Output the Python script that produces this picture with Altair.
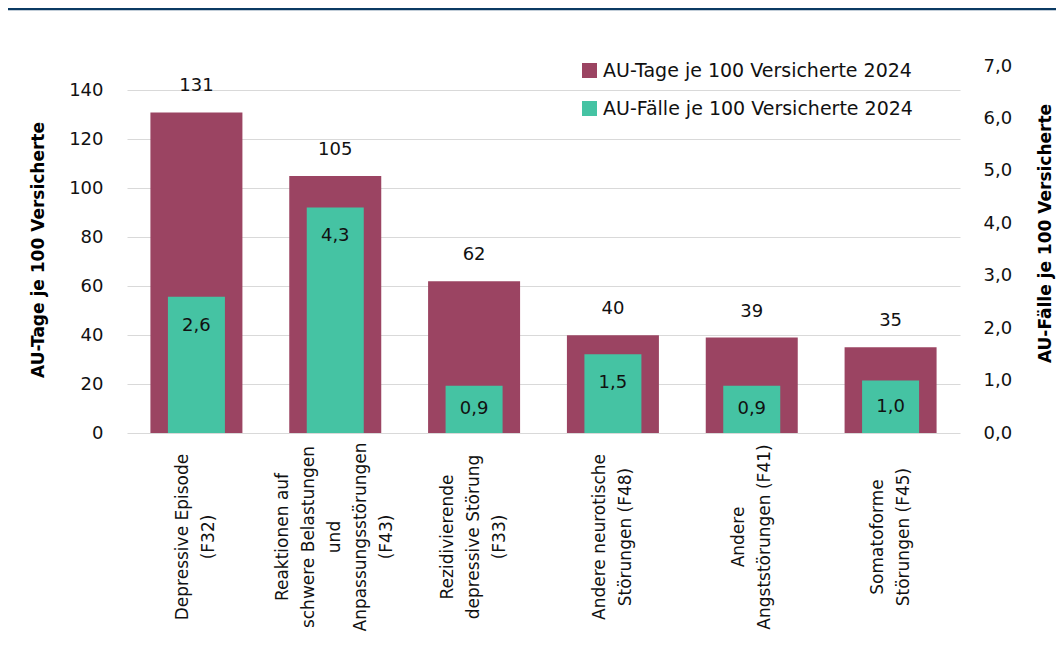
import altair as alt
import pandas as pd

categories = [
    "Depressive Episode\n(F32)",
    "Reaktionen auf\nschwere Belastungen\nund\nAnpassungsstörungen\n(F43)",
    "Rezidivierende\ndepressive Störung\n(F33)",
    "Andere neurotische\nStörungen (F48)",
    "Andere\nAngststörungen (F41)",
    "Somatoforme\nStörungen (F45)",
]
au_tage = [131, 105, 62, 40, 39, 35]
au_faelle = [2.6, 4.3, 0.9, 1.5, 0.9, 1.0]
series_tage = "AU-Tage je 100 Versicherte 2024"
series_faelle = "AU-Fälle je 100 Versicherte 2024"
left_ticks = [0, 20, 40, 60, 80, 100, 120, 140]
right_ticks = [0, 1, 2, 3, 4, 5, 6, 7]

MAROON = "#9B4462"
TEAL = "#45C3A3"
FONT = "DejaVu Sans"
GRID = "#d9d9d9"
W, H = 833, 367
LINE_H = 26

df = pd.DataFrame({
    "cat": categories, "tage": au_tage, "faelle": au_faelle,
    "s_tage": [series_tage] * len(categories),
    "s_faelle": [series_faelle] * len(categories),
})

# one row per label line, with the line's position relative to the label's centre
rows = []
for c in categories:
    parts = c.split("\n")
    n = len(parts)
    for k, p in enumerate(parts):
        rows.append({"cat": c, "line": p, "off": k - (n - 1) / 2})
lines_df = pd.DataFrame(rows)

color_scale = alt.Scale(domain=[series_tage, series_faelle], range=[MAROON, TEAL])
legend = alt.Legend(
    title=None, orient="none", legendX=453, legendY=-5,
    symbolType="square", symbolSize=225, symbolStrokeWidth=0,
    labelFont=FONT, labelFontSize=19, labelColor="#111111",
    labelOffset=4, rowPadding=18, labelLimit=500,
)

x_scale = alt.Scale(paddingInner=0, paddingOuter=0)
x_enc = alt.X(
    "cat:N", sort=categories, title=None, scale=x_scale,
    axis=alt.Axis(
        labels=False, ticks=False, domain=True, domainColor=GRID, domainWidth=1.2,
        grid=False,
    ),
)

base = alt.Chart(df)

y_left = alt.Y(
    "tage:Q", title="AU-Tage je 100 Versicherte",
    scale=alt.Scale(domain=[0, 150], nice=False),
    axis=alt.Axis(
        values=left_ticks, orient="left", ticks=False, domain=False,
        grid=True, gridColor=GRID, gridWidth=1.2,
        labelFont=FONT, labelFontSize=18, labelColor="#111111", labelPadding=24,
        titleFont=FONT, titleFontSize=17, titleFontWeight="bold", titleColor="#000000",
        titlePadding=21,
    ),
)

bars_tage = base.mark_bar(size=92).encode(
    x=x_enc, y=y_left,
    color=alt.Color("s_tage:N", scale=color_scale, legend=legend),
)
text_tage = base.mark_text(
    dy=-26, font=FONT, fontSize=18, color="#111111", baseline="middle"
).encode(
    x=alt.X("cat:N", sort=categories),
    y=alt.Y("tage:Q"),
    text=alt.Text("tage:Q", format="d"),
)
left = alt.layer(bars_tage, text_tage)

y_right = alt.Y(
    "faelle:Q", title="AU-Fälle je 100 Versicherte",
    scale=alt.Scale(domain=[0, 7], nice=False),
    axis=alt.Axis(
        values=right_ticks, orient="right", ticks=False, domain=False, grid=False,
        labelExpr="replace(format(datum.value, '.1f'), '.', ',')",
        labelFont=FONT, labelFontSize=18, labelColor="#111111", labelPadding=23,
        titleFont=FONT, titleFontSize=17, titleFontWeight="bold", titleColor="#000000",
        titleAngle=270, titlePadding=43, titleY=167,
    ),
)

bars_faelle = base.mark_bar(size=57).encode(
    x=alt.X("cat:N", sort=categories),
    y=y_right,
    color=alt.Color("s_faelle:N", scale=color_scale, legend=legend),
)
text_faelle = base.transform_calculate(
    lab="replace(format(datum.faelle, '.1f'), '.', ',')",
    ypos="max(datum.faelle / 2, datum.faelle - 0.55)",
).mark_text(
    font=FONT, fontSize=18, color="#111111", baseline="middle"
).encode(
    x=alt.X("cat:N", sort=categories),
    y=alt.Y("ypos:Q"),
    text="lab:N",
)
right = alt.layer(bars_faelle, text_faelle)

half_band = W / len(categories) / 2
x_labels = alt.Chart(lines_df).mark_text(
    angle=270, align="center", baseline="middle",
    font=FONT, fontSize=17, color="#111111",
).encode(
    x=alt.X("cat:N", sort=categories, axis=None),
    xOffset=alt.XOffset(
        "off:Q",
        scale=alt.Scale(domain=[-2, 2],
                        range=[half_band - 2 * LINE_H, half_band + 2 * LINE_H]),
    ),
    y=alt.value(471),
    text="line:N",
)

top_line = alt.Chart(pd.DataFrame({"a": [0]})).mark_rule(
    color="#0B3A63", strokeWidth=2.5
).encode(x=alt.value(-119), x2=alt.value(929), y=alt.value(-57))

chart = alt.layer(left, right, x_labels, top_line).resolve_scale(y="independent").properties(
    width=W, height=H, background="white",
    autosize=alt.AutoSizeParams(type="none"),
    padding={"left": 119, "top": 58, "right": 96, "bottom": 229},
).configure_view(stroke=None)

chart.save("out.html", embed_options={"renderer": "svg", "actions": False})
